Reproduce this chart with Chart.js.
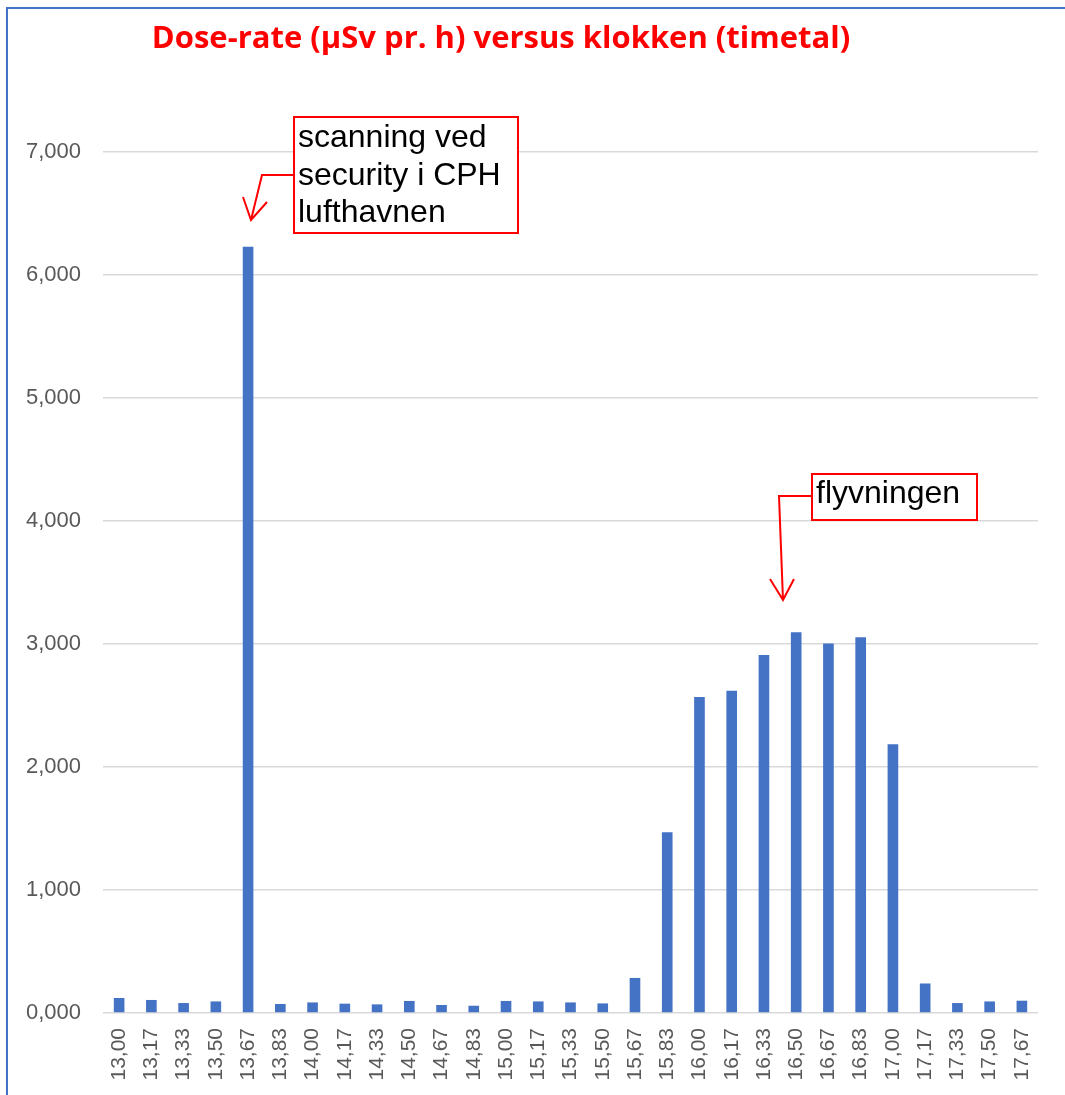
<!DOCTYPE html>
<html>
<head>
<meta charset="utf-8">
<script src="https://cdn.jsdelivr.net/npm/chart.js@4.4.1/dist/chart.umd.min.js"></script>
<style>
  html, body { margin: 0; padding: 0; background: #fff; overflow: hidden; }
  #wrap { position: absolute; left: 0; top: 0; width: 1065px; height: 1125px; }
  #frame { position: absolute; left: 6px; top: 7px; width: 1070px; height: 1200px;
           border-left: 2.5px solid #4472C4; border-top: 2px solid #4472C4; box-sizing: border-box; pointer-events: none; }
</style>
</head>
<body>
<div id="wrap"><canvas id="c" width="1065" height="1125"></canvas></div>
<div id="frame"></div>
<script>
const categories = ["13,00","13,17","13,33","13,50","13,67","13,83","14,00","14,17","14,33","14,50",
  "14,67","14,83","15,00","15,17","15,33","15,50","15,67","15,83","16,00","16,17",
  "16,33","16,50","16,67","16,83","17,00","17,17","17,33","17,50","17,67"];
const doseRate = [122,106,81,94,6230,73,86,76,70,98,
  65,59,98,94,86,78,285,1470,2570,2620,
  2910,3095,3005,3054,2185,240,81,94,100];
const yTickLabels = ["0,000","1,000","2,000","3,000","4,000","5,000","6,000","7,000"];
const titleText = "Dose-rate (µSv pr. h) versus klokken (timetal)";
const note1 = ["scanning ved","security i CPH","lufthavnen"];
const note2 = ["flyvningen"];

const annotations = {
  id: 'notes',
  afterDraw(chart) {
    const ctx = chart.ctx;
    ctx.save();
    // title
    ctx.fillStyle = '#FF0000';
    ctx.font = 'bold 31px "Open Sans", sans-serif';
    ctx.textAlign = 'center';
    ctx.textBaseline = 'middle';
    ctx.fillText(titleText, 501, 39);
    ctx.textAlign = 'left';
    ctx.strokeStyle = '#FF0000';
    ctx.lineWidth = 2;
    ctx.font = '32px "Liberation Sans", Arial, sans-serif';
    ctx.textBaseline = 'alphabetic';
    // box 1
    ctx.fillStyle = '#fff';
    ctx.fillRect(294, 117, 224, 116);
    ctx.strokeRect(294, 117, 224, 116);
    ctx.fillStyle = '#000';
    note1.forEach((t, i) => ctx.fillText(t, 298, 147 + i * 37.5));
    // arrow 1
    ctx.beginPath();
    ctx.moveTo(294, 175); ctx.lineTo(262, 175); ctx.lineTo(251, 220);
    ctx.moveTo(243, 197); ctx.lineTo(251, 220); ctx.lineTo(267, 202);
    ctx.stroke();
    // box 2
    ctx.fillStyle = '#fff';
    ctx.fillRect(812, 474, 165, 46);
    ctx.strokeRect(812, 474, 165, 46);
    ctx.fillStyle = '#000';
    ctx.fillText(note2[0], 816, 503);
    // arrow 2
    ctx.beginPath();
    ctx.moveTo(812, 496); ctx.lineTo(779, 496); ctx.lineTo(783, 600);
    ctx.moveTo(770, 579); ctx.lineTo(783, 600); ctx.lineTo(794, 579);
    ctx.stroke();
    ctx.restore();
  }
};

new Chart(document.getElementById('c'), {
  type: 'bar',
  data: {
    labels: categories,
    datasets: [{
      data: doseRate,
      backgroundColor: '#4472C4',
      borderWidth: 0,
      barPercentage: 0.33,
      categoryPercentage: 1.0
    }]
  },
  options: {
    responsive: false,
    animation: false,
    layout: { padding: { top: 152, left: 0, right: 27, bottom: 0 } },
    plugins: {
      legend: { display: false },
      tooltip: { enabled: false },
      title: { display: false }
    },
    scales: {
      x: {
        grid: { display: false, drawTicks: false },
        border: { display: false },
        ticks: {
          color: '#595959',
          font: { family: '"Liberation Sans", Arial, sans-serif', size: 21 },
          minRotation: 90, maxRotation: 90, autoSkip: false, padding: 15
        },
        afterFit(s) { s.height = 112; }
      },
      y: {
        min: 0, max: 7000,
        grid: { color: '#D9D9D9', lineWidth: 1.5, drawTicks: false },
        border: { display: false },
        ticks: {
          stepSize: 1000,
          color: '#595959',
          font: { family: '"Liberation Sans", Arial, sans-serif', size: 22 },
          padding: 22,
          callback: (v) => yTickLabels[Math.round(v / 1000)]
        },
        afterFit(s) { s.width = 103; }
      }
    }
  },
  plugins: [annotations]
});
</script>
</body>
</html>
